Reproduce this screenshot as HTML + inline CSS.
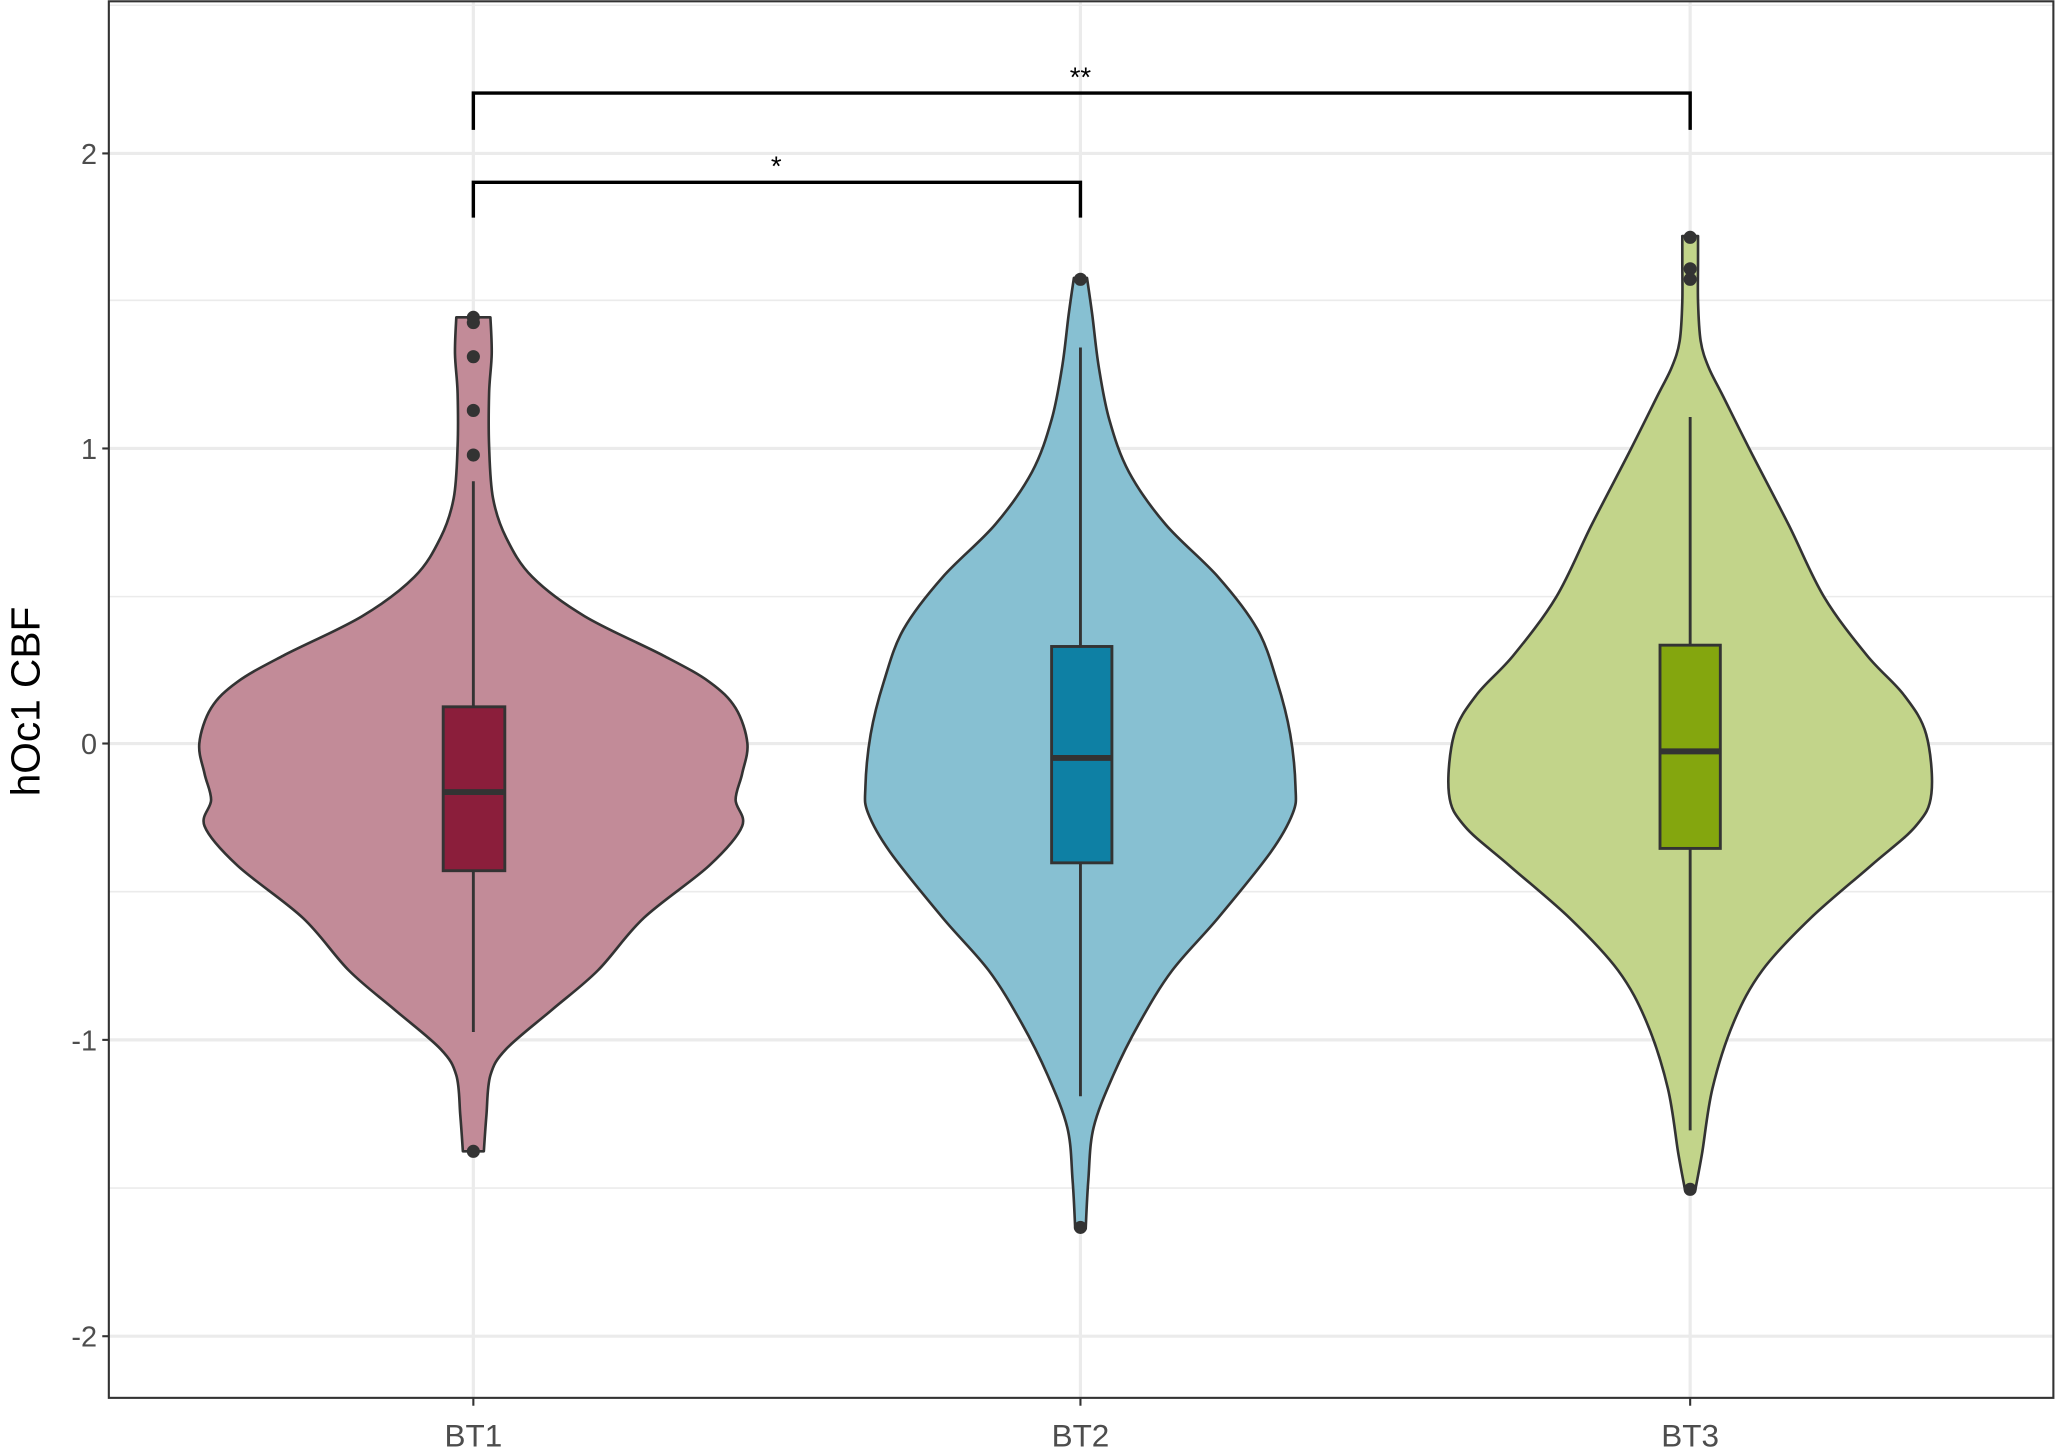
<!DOCTYPE html>
<html><head><style>html,body{margin:0;padding:0;background:#fff;overflow:hidden}svg{display:block;}</style></head>
<body>
<svg id="s" width="2056" height="1449" viewBox="0 0 1568 1105" preserveAspectRatio="none" xmlns="http://www.w3.org/2000/svg" font-family="Liberation Sans, Arial, sans-serif">
<rect width="1568" height="1105" fill="#fff"/>
<g stroke="#ebebeb" stroke-width="1.2">
<line x1="83" x2="1566" y1="4" y2="4"/>
<line x1="83" x2="1566" y1="229" y2="229"/><line x1="83" x2="1566" y1="455" y2="455"/><line x1="83" x2="1566" y1="680" y2="680"/><line x1="83" x2="1566" y1="906" y2="906"/>
</g>
<g stroke="#ebebeb" stroke-width="2.4">
<line x1="83" x2="1566" y1="117" y2="117"/><line x1="83" x2="1566" y1="342" y2="342"/><line x1="83" x2="1566" y1="567" y2="567"/><line x1="83" x2="1566" y1="793" y2="793"/><line x1="83" x2="1566" y1="1019" y2="1019"/>
<line x1="361" x2="361" y1="1" y2="1066"/><line x1="824" x2="824" y1="1" y2="1066"/><line x1="1289" x2="1289" y1="1" y2="1066"/>
</g>
<g id="violins" stroke="#333" stroke-width="2" stroke-linejoin="round"></g>
<g stroke="#333" stroke-width="2.2">
<line x1="361" x2="361" y1="367" y2="787"/>
<rect x="338" y="539" width="47" height="125" fill="#8b1e3b"/>
<line x1="338" x2="385" y1="604" y2="604" stroke-width="4.5"/>
<line x1="824" x2="824" y1="265" y2="836"/>
<rect x="802" y="493" width="46" height="165" fill="#0e80a4"/>
<line x1="802" x2="848" y1="578" y2="578" stroke-width="4.5"/>
<line x1="1289" x2="1289" y1="318" y2="862"/>
<rect x="1266" y="492" width="46" height="155" fill="#84a60e"/>
<line x1="1266" x2="1312" y1="573" y2="573" stroke-width="4.5"/>
</g>
<g fill="#333">
<circle cx="361" cy="242" r="5"/><circle cx="361" cy="246" r="5"/><circle cx="361" cy="272" r="5"/><circle cx="361" cy="313" r="5"/><circle cx="361" cy="347" r="5"/><circle cx="361" cy="878" r="5"/>
<circle cx="824" cy="213" r="5"/><circle cx="824" cy="936" r="5"/>
<circle cx="1289" cy="181" r="5"/><circle cx="1289" cy="205" r="5"/><circle cx="1289" cy="213" r="5"/><circle cx="1289" cy="907" r="5"/>
</g>
<g stroke="#000" stroke-width="2.6" fill="none">
<polyline points="361,99 361,71 1289,71 1289,99"/>
<polyline points="361,166 361,139 824,139 824,166"/>
</g>
<text x="824" y="66" font-size="21" text-anchor="middle">**</text>
<text x="592" y="134" font-size="21" text-anchor="middle">*</text>
<rect x="83" y="1" width="1483" height="1065" fill="none" stroke="#333" stroke-width="1.6"/>
<g stroke="#333" stroke-width="1.6">
<line x1="78" x2="83" y1="117" y2="117"/><line x1="78" x2="83" y1="342" y2="342"/><line x1="78" x2="83" y1="567" y2="567"/><line x1="78" x2="83" y1="793" y2="793"/><line x1="78" x2="83" y1="1019" y2="1019"/>
<line x1="361" x2="361" y1="1066" y2="1072"/><line x1="824" x2="824" y1="1066" y2="1072"/><line x1="1289" x2="1289" y1="1066" y2="1072"/>
</g>
<g font-size="22" fill="#4d4d4d" text-anchor="end">
<text x="74" y="125">2</text><text x="74" y="350">1</text><text x="74" y="575">0</text><text x="74" y="801">-1</text><text x="74" y="1027">-2</text>
</g>
<g font-size="24" fill="#4d4d4d" text-anchor="middle">
<text x="361" y="1103">BT1</text><text x="824" y="1103">BT2</text><text x="1289" y="1103">BT3</text>
</g>
<text transform="translate(30,535) rotate(-90)" font-size="31" text-anchor="middle" fill="#000">hOc1 CBF</text>
</svg>
<script>
var data=[
{cx:361,fill:"#c28b98",pts:[[242,13],[270,14],[300,12],[340,12],[380,15],[410,25],[440,45],[470,85],[500,145],[520,180],[540,200],[567,209],[590,205],[610,200],[630,205],[660,180],[700,130],[740,95],[770,60],[800,25],[820,13],[850,10],[878,8]]},
{cx:824,fill:"#87c0d2",pts:[[212,5],[240,9],[280,14],[320,22],[360,37],[400,65],[440,105],[480,135],[520,150],[560,160],[600,164],[620,162],[650,145],[700,105],[740,70],[780,45],[820,25],[860,10],[900,6],[937,4]]},
{cx:1289,fill:"#c2d48a",pts:[[180,6],[200,6],[230,6],[260,8],[280,14],[300,24],[342,45],[400,75],[455,102],[500,135],[530,163],[560,180],[605,184],[630,172],[660,138],[700,92],[740,55],[780,33],[830,17],[880,9],[907,4]]}];
function cr(p){var d="M"+p[0][0]+","+p[0][1];for(var i=0;i<p.length-1;i++){var a=p[Math.max(i-1,0)],b=p[i],c=p[i+1],e=p[Math.min(i+2,p.length-1)];var c1=[b[0]+(c[0]-a[0])/6,b[1]+(c[1]-a[1])/6],c2=[c[0]-(e[0]-b[0])/6,c[1]-(e[1]-b[1])/6];d+=" C"+c1[0].toFixed(1)+","+c1[1].toFixed(1)+" "+c2[0].toFixed(1)+","+c2[1].toFixed(1)+" "+c[0]+","+c[1];}return d;}
var g=document.getElementById("violins");
data.forEach(function(v){var r=v.pts.map(function(q){return [v.cx+q[1],q[0]];});var l=v.pts.slice().reverse().map(function(q){return [v.cx-q[1],q[0]];});
var d=cr(r)+" L"+l[0][0]+","+l[0][1]+cr(l).replace(/^M[^ ]+/,"")+" Z";
var p=document.createElementNS("http://www.w3.org/2000/svg","path");p.setAttribute("d",d);p.setAttribute("fill",v.fill);g.appendChild(p);});
</script>
</body></html>
